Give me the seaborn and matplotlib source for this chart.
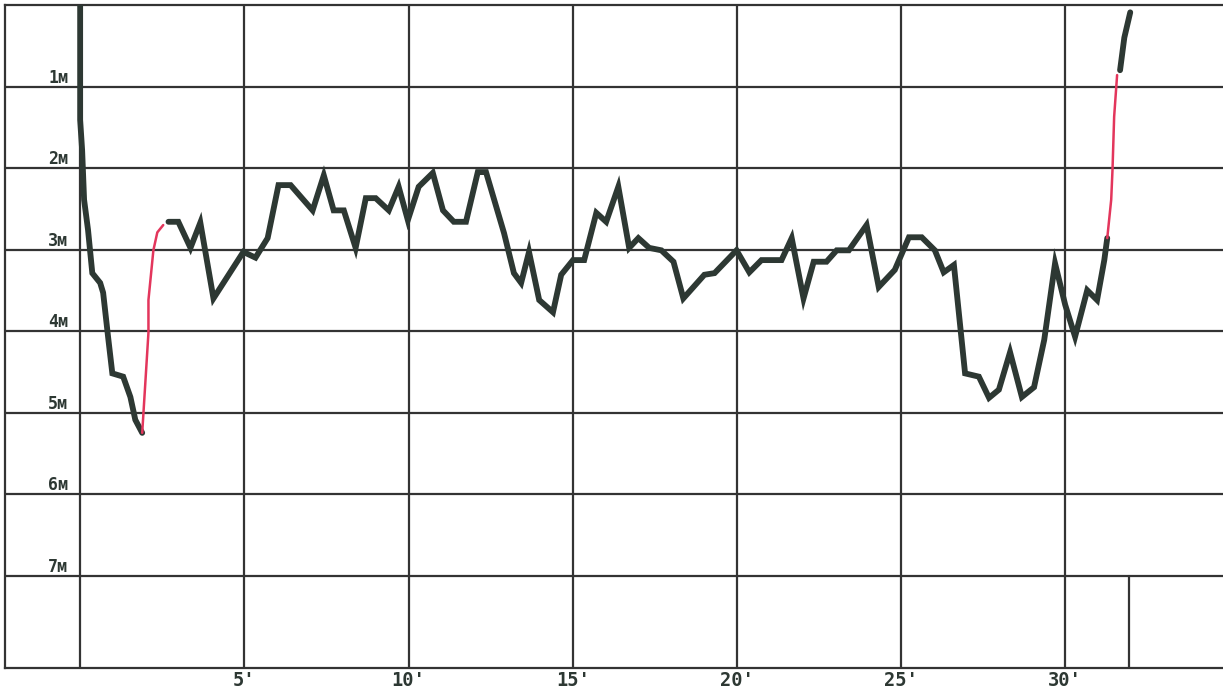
import matplotlib
matplotlib.use("Agg")
import matplotlib.pyplot as plt
import seaborn as sns
import pandas as pd

# ---- data (minutes, metres) ----
descent_t = [0.00, 0.00, 0.06, 0.12, 0.24, 0.37, 0.61, 0.70, 0.85, 0.98, 1.31, 1.53, 1.68, 1.89]
descent_d = [0.00, 1.41, 1.78, 2.39, 2.76, 3.29, 3.41, 3.53, 4.07, 4.52, 4.56, 4.81, 5.09, 5.25]

ascent1_t = [1.89, 2.08, 2.08, 2.23, 2.35, 2.53]
ascent1_d = [5.25, 4.02, 3.62, 3.01, 2.79, 2.70]

bottom_t = [2.69, 2.99, 3.36, 3.66, 4.06, 4.97, 5.34, 5.71, 6.04, 6.41, 7.08, 7.42, 7.72, 8.03,
            8.39, 8.70, 9.00, 9.40, 9.70, 9.98, 10.31, 10.74, 11.05, 11.38, 11.75, 12.11, 12.36,
            12.91, 13.21, 13.43, 13.67, 13.98, 14.40, 14.65, 15.01, 15.35, 15.72, 16.02, 16.39,
            16.72, 17.00, 17.33, 17.70, 18.07, 18.37, 19.01, 19.32, 19.99, 20.38, 20.75, 21.36,
            21.67, 22.03, 22.34, 22.73, 23.04, 23.41, 23.95, 24.32, 24.81, 25.24, 25.63, 26.03,
            26.30, 26.61, 26.95, 27.37, 27.68, 27.98, 28.32, 28.68, 29.05, 29.36, 29.69, 30.00,
            30.30, 30.67, 30.97, 31.19, 31.28]
bottom_d = [2.66, 2.66, 2.98, 2.67, 3.60, 3.03, 3.10, 2.86, 2.21, 2.21, 2.52, 2.09, 2.52, 2.52,
            2.98, 2.37, 2.37, 2.52, 2.23, 2.64, 2.23, 2.06, 2.52, 2.66, 2.66, 2.05, 2.05,
            2.80, 3.29, 3.41, 3.03, 3.62, 3.77, 3.31, 3.13, 3.13, 2.55, 2.66, 2.23,
            2.98, 2.86, 2.98, 3.01, 3.15, 3.60, 3.31, 3.29, 3.01, 3.28, 3.13, 3.13,
            2.86, 3.60, 3.15, 3.15, 3.01, 3.01, 2.70, 3.46, 3.25, 2.85, 2.85, 3.01,
            3.28, 3.19, 4.52, 4.56, 4.82, 4.72, 4.26, 4.81, 4.69, 4.11, 3.17, 3.68,
            4.07, 3.50, 3.62, 3.13, 2.86]

ascent2_t = [31.28, 31.40, 31.44, 31.49, 31.58]
ascent2_d = [2.86, 2.39, 2.02, 1.37, 0.86]

surface_t = [31.67, 31.80, 31.98]
surface_d = [0.80, 0.40, 0.09]

dive_end = 31.95
depth_ticks = [1, 2, 3, 4, 5, 6, 7]
depth_labels = ["1м", "2м", "3м", "4м", "5м", "6м", "7м"]
time_ticks = [5, 10, 15, 20, 25, 30]
time_labels = ["5'", "10'", "15'", "20'", "25'", "30'"]

# ---- styling ----
DARK = "#2d3833"
RED = "#e3365c"
GRID = "#333333"

sns.set_theme(style="white")
plt.rcParams["font.family"] = ["DejaVu Sans Mono", "DejaVu Sans"]

fig = plt.figure(figsize=(12.23, 6.93), dpi=100)
ax = fig.add_axes([5 / 1223, 1 - 668 / 693, 1 - 5 / 1223 + 0.002, (668 - 5) / 693])

x_left = -75 / 32.77
x_right = (1223 - 80) / 32.77
y_bottom = (668 - 5) / 81.5

# grid
for d in depth_ticks:
    ax.plot([x_left, x_right], [d, d], color=GRID, lw=1.6, zorder=1, solid_capstyle="butt")
for t in [0] + time_ticks:
    ax.plot([t, t], [0, y_bottom], color=GRID, lw=1.6, zorder=1, solid_capstyle="butt")
ax.plot([dive_end, dive_end], [7, y_bottom], color=GRID, lw=1.6, zorder=1)

segments = [
    (descent_t, descent_d, DARK, 4.2),
    (ascent1_t, ascent1_d, RED, 1.8),
    (bottom_t, bottom_d, DARK, 4.2),
    (ascent2_t, ascent2_d, RED, 1.8),
    (surface_t, surface_d, DARK, 4.2),
]
for ts, ds, col, lw in segments:
    df = pd.DataFrame({"t": ts, "d": ds})
    sns.lineplot(data=df, x="t", y="d", sort=False, estimator=None, ax=ax,
                 color=col, lw=lw, zorder=4 if col == RED else 3,
                 solid_joinstyle="miter" if col == DARK else "round")

ax.set_xlim(x_left, x_right)
ax.set_ylim(y_bottom, 0)

for d, lab in zip(depth_ticks, depth_labels):
    ax.text(-0.37, d - 0.045, lab, ha="right", va="baseline", fontsize=12,
            fontweight="bold", color=DARK)

ax.set_xticks(time_ticks)
ax.set_xticklabels(time_labels, fontsize=13.5, fontweight="bold", color=DARK)
ax.tick_params(axis="x", length=0, pad=2)
ax.set_yticks([])
ax.set_xlabel("")
ax.set_ylabel("")

for s in ["left", "top", "bottom"]:
    ax.spines[s].set_visible(True)
    ax.spines[s].set_color(GRID)
    ax.spines[s].set_linewidth(1.6)
ax.spines["right"].set_visible(False)

fig.savefig("out.png", dpi=100, facecolor="white")
